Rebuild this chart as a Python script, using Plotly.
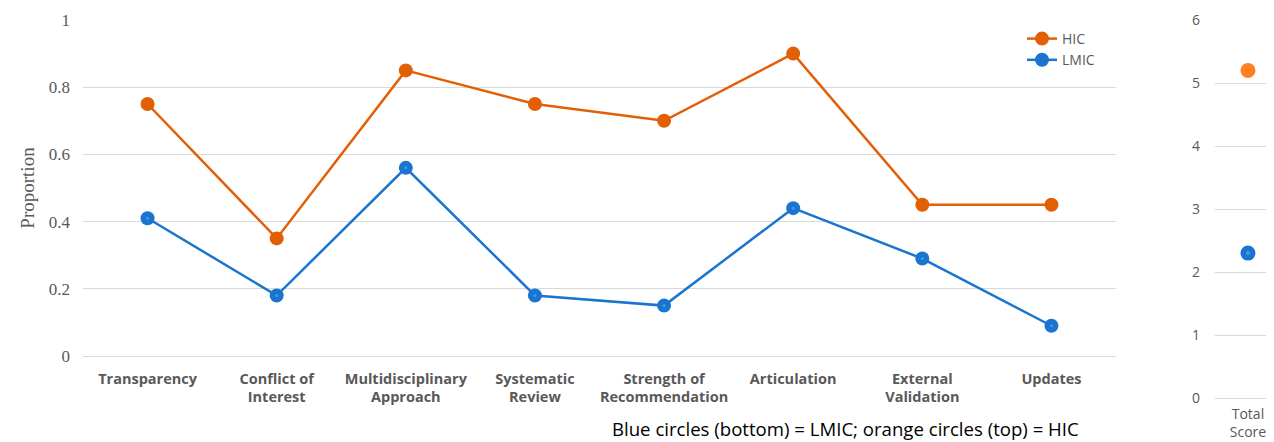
import plotly.graph_objects as go

categories = ["Transparency", "Conflict of<br>Interest", "Multidisciplinary<br>Approach",
              "Systematic<br>Review", "Strength of<br>Recommendation", "Articulation",
              "External<br>Validation", "Updates"]
hic = [0.75, 0.35, 0.85, 0.75, 0.70, 0.90, 0.45, 0.45]
lmic = [0.41, 0.18, 0.56, 0.18, 0.15, 0.44, 0.29, 0.09]
total_label = ["Total<br>Score"]
total_hic = [5.2]
total_lmic = [2.3]

# page body has an 8px margin; figure sized to fill the rest of the window
OFF = 8
W, H = 1274 - OFF, 442 - OFF


def fx(px):
    return (px - OFF) / W


def fy(py):
    return 1 - (py - OFF) / H


ORANGE = "#E35F05"
BLUE = "#1B74CF"
ORANGE2 = "#FF7F22"
DOT = "#3AA0DC"

fig = go.Figure()
fig.add_trace(go.Scatter(x=categories, y=hic, name="HIC", mode="lines+markers",
                         line=dict(color=ORANGE, width=2.5),
                         marker=dict(color=ORANGE, size=14), xaxis="x", yaxis="y"))
fig.add_trace(go.Scatter(x=categories, y=lmic, name="LMIC", mode="lines+markers",
                         line=dict(color=BLUE, width=2.5),
                         marker=dict(color=BLUE, size=14), xaxis="x", yaxis="y"))
fig.add_trace(go.Scatter(x=categories, y=lmic, mode="markers", showlegend=False,
                         marker=dict(color=DOT, size=3), xaxis="x", yaxis="y",
                         hoverinfo="skip"))
fig.add_trace(go.Scatter(x=[0], y=total_hic, mode="markers", showlegend=False,
                         marker=dict(color=ORANGE2, size=15), xaxis="x2", yaxis="y2"))
fig.add_trace(go.Scatter(x=[0], y=total_lmic, mode="markers", showlegend=False,
                         marker=dict(color=BLUE, size=15), xaxis="x2", yaxis="y2"))
fig.add_trace(go.Scatter(x=[0], y=total_lmic, mode="markers", showlegend=False,
                         marker=dict(color=DOT, size=4), xaxis="x2", yaxis="y2",
                         hoverinfo="skip"))

grid = "#D9D9D9"
fig.update_layout(
    width=W, height=H,
    margin=dict(l=0, r=0, t=0, b=0, autoexpand=False),
    paper_bgcolor="white", plot_bgcolor="white",
    showlegend=True,
    legend=dict(x=fx(1022), y=fy(23), xanchor="left", yanchor="top",
                bgcolor="rgba(0,0,0,0)", font=dict(family="Open Sans", size=14, color="#595959"),
                itemwidth=30, tracegroupgap=0),
    xaxis=dict(domain=[fx(83), fx(1116)], range=[-0.5, 7.5], type="category",
               showgrid=False, showline=False, zeroline=False, ticks="", automargin=False,
               tickfont=dict(family="Open Sans", size=14.5, color="#595959", weight="bold"),
               ticklabelstandoff=12),
    yaxis=dict(domain=[fy(356), fy(20)], range=[0, 1], dtick=0.2,
               showgrid=True, gridcolor=grid, gridwidth=1, zeroline=True, automargin=False,
               zerolinecolor=grid, zerolinewidth=1, showline=False,
               tickfont=dict(family="Liberation Serif", size=17, color="#595959"),
               ticklabelstandoff=12,
               title=dict(text="Proportion", font=dict(family="Liberation Serif", size=19, color="#595959"),
                          standoff=9)),
    xaxis2=dict(domain=[fx(1215), 1.0], range=[-0.5, 0.395], anchor="y2", automargin=False,
                tickvals=[0], ticktext=total_label, showgrid=False, zeroline=False,
                showline=False, ticks="",
                tickfont=dict(family="Open Sans", size=14, color="#595959"),
                ticklabelstandoff=6),
    yaxis2=dict(domain=[fy(398), fy(20)], range=[0, 6], dtick=1, automargin=False,
                anchor="x2", showgrid=True, gridcolor=grid, gridwidth=1,
                zeroline=True, zerolinecolor=grid, zerolinewidth=1, showline=False,
                tickfont=dict(family="Open Sans", size=14, color="#595959"),
                ticklabelstandoff=14),
    annotations=[dict(text="Blue circles (bottom) = LMIC; orange circles (top) = HIC",
                      x=fx(845), y=fy(428), xref="paper", yref="paper",
                      xanchor="center", yanchor="middle", showarrow=False,
                      font=dict(family="Open Sans", size=18.6, color="black"))],
)

fig.write_html("out.html")
